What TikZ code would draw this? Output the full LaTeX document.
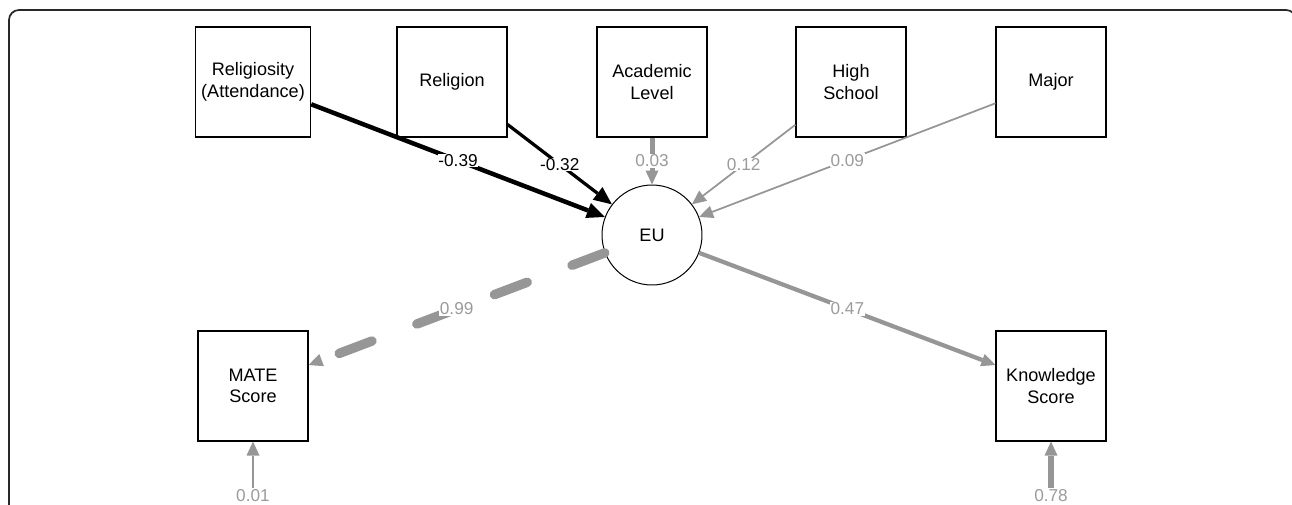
\documentclass[tikz,border=0pt]{standalone}
\usepackage{fontspec}
\setmainfont{Liberation Sans}
\usetikzlibrary{arrows.meta}
\definecolor{edge_gray}{RGB}{150,150,150}
\definecolor{text_gray}{RGB}{155,155,155}
\definecolor{frame_gray}{RGB}{40,40,40}

\begin{document}
\begin{tikzpicture}[x=0.02cm,y=-0.02cm,semithick,>={Triangle[length=0.28cm,width=0.26cm,line width=0pt]}]
    \tikzstyle{obs}=[draw=black, line width=0.022cm, rectangle, minimum width=2.2cm, minimum height=2.2cm, align=center, text=black, font=\fontsize{10.3}{12.3}\selectfont]
    \tikzstyle{lat}=[draw=black, line width=0.02cm, circle, minimum size=2.0cm, fill=white, text=black, font=\fontsize{10.3}{12.3}\selectfont]
    \tikzstyle{coef}=[fill=white, inner sep=0.4pt, text=text_gray, font=\fontsize{9.8}{11}\selectfont]
    \tikzstyle{negc}=[style=coef, text=black]
    \tikzstyle{err}=[inner sep=1pt, text=text_gray, font=\fontsize{9.8}{11}\selectfont]
    \tikzstyle{negpath}=[->, draw=black, >={Triangle[length=0.36cm,width=0.32cm,line width=0pt]}]
    \tikzstyle{pospath}=[->, draw=edge_gray]

    \useasboundingbox (0,0) rectangle (1292,504);
    \clip (0,0) rectangle (1292,504);
    \draw[frame_gray, line width=0.035cm, rounded corners=0.2cm] (9,10) rectangle (1296,540);

    \node[obs] (relg)  at (253,82)   {Religiosity\\(Attendance)};
    \node[obs] (rel)   at (452,82)   {Religion};
    \node[obs] (acad)  at (652,82)   {Academic\\Level};
    \node[obs] (hs)    at (851,82)   {High\\School};
    \node[obs] (major) at (1051,82)  {Major};
    \node[lat] (eu)    at (652,235)  {EU};
    \node[obs] (mate)  at (253,386)  {MATE\\Score};
    \node[obs] (know)  at (1051,386) {Knowledge\\Score};
    \node[err] (emate) at (253,496)  {0.01};
    \node[err] (eknow) at (1051,496) {0.78};

    \path
     (relg)  edge[negpath, line width=0.09cm] node[negc] {-0.39} (eu)
     (rel)   edge[negpath, line width=0.065cm] node[negc] {-0.32} (eu)
     (acad)  edge[pospath, line width=0.1cm] node[coef] {0.03} (eu)
     (hs)    edge[pospath, line width=0.035cm] node[coef] {0.12} (eu)
     (major) edge[pospath, line width=0.035cm] node[coef] {0.09} (eu)
     (eu)    edge[pospath, line width=0.19cm, line cap=round, dash pattern=on 0.7cm off 0.96cm] node[coef] {0.99} (mate)
     (eu)    edge[pospath, line width=0.085cm] node[coef] {0.47} (know)
     (emate) edge[pospath, line width=0.035cm] (mate)
     (eknow) edge[pospath, line width=0.115cm] (know)
     ;
\end{tikzpicture}
\end{document}
